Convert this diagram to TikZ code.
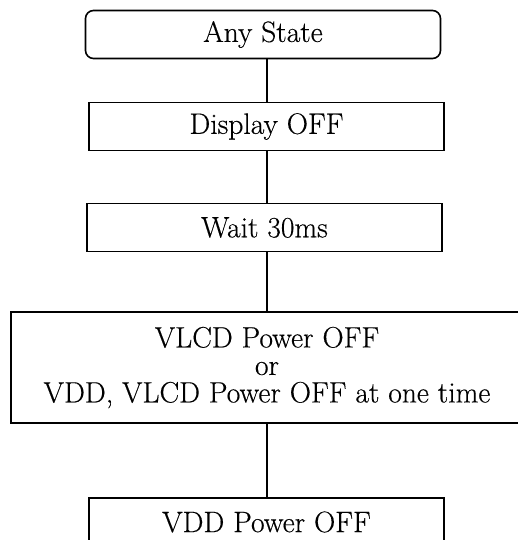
\documentclass[tikz,border=0pt]{standalone}
\usepackage{fontspec}
\setmainfont[FakeBold=0.4]{Latin Modern Roman}
\usetikzlibrary{positioning}
\tikzset{
  stepbox/.style={draw, line width=1.6pt, minimum width=355pt, minimum height=48pt,
    inner sep=0pt, align=center, font=\fontsize{29.5}{27.5}\selectfont},
  startbox/.style={stepbox, rounded corners=8pt},
  link/.style={line width=1.6pt}
}
\begin{document}
\begin{tikzpicture}[x=1pt, y=-1pt]
  \useasboundingbox (0,0) rectangle (518,540);
  % power-off sequence
  \node[startbox] (any) at (263,34.5) {Any State};
  \node[stepbox] (disp) at (266.5,126.5) {Display OFF};
  \node[stepbox] (wait) at (264.5,227.5) {Wait 30ms};
  \node[stepbox, minimum width=512pt, minimum height=111pt] (vlcd) at (267,367.5)
    {VLCD Power OFF\\or\\VDD, VLCD Power OFF at one time};
  \node[stepbox] (vdd) at (266.5,522) {VDD Power OFF};
  % connectors
  \coordinate (spine) at (267,0);
  \draw[link] (any.south -| spine) -- (disp.north -| spine);
  \draw[link] (disp.south -| spine) -- (wait.north -| spine);
  \draw[link] (wait.south -| spine) -- (vlcd.north -| spine);
  \draw[link] (vlcd.south -| spine) -- (vdd.north -| spine);
\end{tikzpicture}
\end{document}
